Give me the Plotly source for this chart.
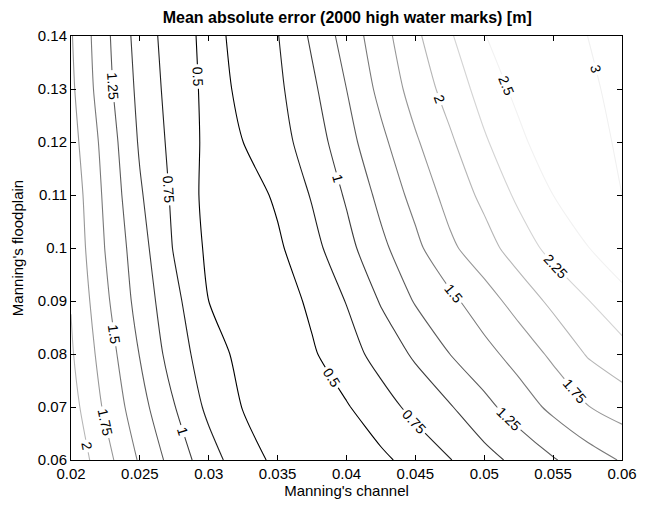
import plotly.graph_objects as go

# Manning's channel (x) and floodplain (y) grid
x_channel = [0.02, 0.0225, 0.025, 0.0275, 0.03, 0.0325, 0.035, 0.0375, 0.04,
             0.0425, 0.045, 0.0475, 0.05, 0.0525, 0.055, 0.0575, 0.06]
y_floodplain = [0.06, 0.07, 0.08, 0.09, 0.10, 0.11, 0.12, 0.13, 0.14]

# Mean absolute error [m], one row per floodplain value
mae_006 = [2.19, 1.84, 1.47, 1.15, 0.86, 0.60, 0.45, 0.38, 0.37, 0.45, 0.59, 0.74, 0.91, 1.07, 1.23, 1.38, 1.52]
mae_007 = [2.10, 1.71, 1.34, 1.01, 0.69, 0.49, 0.40, 0.37, 0.48, 0.65, 0.82, 0.98, 1.18, 1.37, 1.56, 1.74, 1.86]
mae_008 = [2.03, 1.63, 1.24, 0.88, 0.61, 0.43, 0.34, 0.47, 0.65, 0.84, 1.04, 1.25, 1.42, 1.60, 1.80, 2.02, 2.16]
mae_009 = [1.99, 1.55, 1.15, 0.82, 0.50, 0.36, 0.37, 0.55, 0.76, 1.02, 1.27, 1.44, 1.64, 1.85, 2.06, 2.24, 2.42]
mae_010 = [1.94, 1.49, 1.10, 0.73, 0.45, 0.37, 0.46, 0.67, 0.92, 1.19, 1.44, 1.70, 1.90, 2.12, 2.33, 2.49, 2.65]
mae_011 = [1.91, 1.45, 1.03, 0.70, 0.42, 0.38, 0.54, 0.77, 1.03, 1.32, 1.58, 1.84, 2.06, 2.30, 2.50, 2.75, 3.00]
mae_012 = [1.85, 1.41, 0.97, 0.67, 0.44, 0.50, 0.66, 0.86, 1.16, 1.44, 1.72, 1.96, 2.22, 2.44, 2.66, 2.88, 3.05]
mae_013 = [1.80, 1.34, 0.93, 0.64, 0.44, 0.53, 0.70, 0.95, 1.25, 1.57, 1.85, 2.10, 2.35, 2.57, 2.76, 2.95, 3.08]
mae_014 = [1.77, 1.31, 0.89, 0.62, 0.43, 0.57, 0.74, 1.04, 1.35, 1.65, 1.95, 2.22, 2.49, 2.66, 2.84, 3.00, 3.12]

z_rows = [mae_006, mae_007, mae_008, mae_009, mae_010, mae_011, mae_012, mae_013, mae_014]

x_ticks = [0.02, 0.025, 0.03, 0.035, 0.04, 0.045, 0.05, 0.055, 0.06]
x_ticktext = ["0.02", "0.025", "0.03", "0.035", "0.04", "0.045", "0.05", "0.055", "0.06"]
y_ticks = [0.06, 0.07, 0.08, 0.09, 0.10, 0.11, 0.12, 0.13, 0.14]
y_ticktext = ["0.06", "0.07", "0.08", "0.09", "0.1", "0.11", "0.12", "0.13", "0.14"]

FONT = "Liberation Sans, Arial, Helvetica, sans-serif"
gray_scale = [[0, "#000000"], [1, "#f2f2f2"]]
white_scale = [[0, "#f0f0f0"], [1, "#f0f0f0"]]

fig = go.Figure()
for start, end, cs in [(0.5, 2.5, gray_scale), (3.0, 3.0, white_scale)]:
    fig.add_trace(go.Contour(
        x=x_channel, y=y_floodplain, z=z_rows,
        autocontour=False,
        contours=dict(start=start, end=end, size=0.25, coloring="lines",
                      showlabels=True,
                      labelfont=dict(family=FONT, size=14, color="black")),
        line=dict(width=1.1, smoothing=0.7),
        colorscale=cs, zmin=0.5, zmax=3.0,
        showscale=False, hoverinfo="skip",
    ))

axis_common = dict(showgrid=False, zeroline=False, showline=True, linecolor="black",
                   linewidth=1, mirror="allticks", ticks="inside", ticklen=5,
                   tickcolor="black", tickfont=dict(family=FONT, size=15, color="black"))

fig.update_layout(
    width=649, height=509,
    margin=dict(l=71, r=15, t=36, b=48),
    paper_bgcolor="white", plot_bgcolor="white",
    title=dict(text="<b>Mean absolute error (2000 high water marks) [m]</b>",
               x=0.535, xanchor="center", y=0.965, yanchor="middle",
               font=dict(family=FONT, size=16, color="black")),
    xaxis=dict(range=[0.02, 0.06], tickvals=x_ticks, ticktext=x_ticktext,
               title=dict(text="Manning's channel", standoff=4,
                          font=dict(family=FONT, size=15, color="black")),
               **axis_common),
    yaxis=dict(range=[0.06, 0.14], tickvals=y_ticks, ticktext=y_ticktext,
               title=dict(text="Manning's floodplain", standoff=10,
                          font=dict(family=FONT, size=15, color="black")),
               **axis_common),
)

fig.write_html("out.html")
